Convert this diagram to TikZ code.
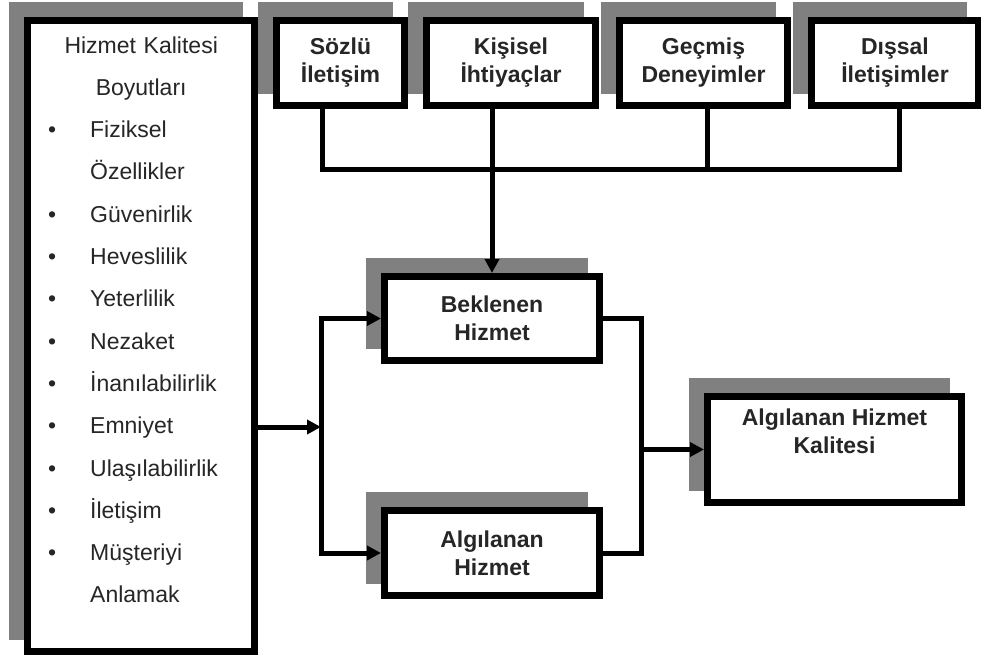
\documentclass[tikz,border=0pt]{standalone}
\usepackage{fontspec}
\setmainfont{Liberation Sans}
\usepackage{tikz}
\usetikzlibrary{arrows.meta,positioning,shadows}
\definecolor{Golge}{HTML}{808080}
\definecolor{Yazi}{HTML}{262626}
\newcommand{\madde}[1]{\makebox[14pt]{{\fontsize{23}{23}\selectfont\textbullet}}\hspace{31pt}#1}
\newcommand{\devam}[1]{\hspace*{45pt}#1}

\begin{document}
\begin{tikzpicture}[
  x=1pt, y=-1pt,
  every node/.style={text=Yazi},
  kutu/.style={draw=black,line width=7pt,fill=white,inner sep=2pt,align=center,
    general shadow={fill=Golge,draw=Golge,shadow xshift=-15pt,shadow yshift=15pt},
    font=\fontsize{23}{28}\selectfont\bfseries},
  bag/.style={line width=5pt,draw=black},
  ok/.style={bag,-{Triangle[length=14pt,width=14pt]}}
]
  \fill[white] (0,0) rectangle (981,659);
  \useasboundingbox (0,0) rectangle (981,659);

  \node[kutu,minimum width=227pt,minimum height=631pt] (boy) at (141,336) {};
  \node[anchor=base west,text width=200pt,inner sep=0pt,align=left,
    font=\fontsize{23}{42.3}\selectfont] (liste) at (45,53)
    {\makebox[192pt]{Hizmet Kalitesi}\\
     \makebox[192pt]{Boyutları}\\
     \madde{Fiziksel}\\
     \devam{Özellikler}\\
     \madde{Güvenirlik}\\
     \madde{Heveslilik}\\
     \madde{Yeterlilik}\\
     \madde{Nezaket}\\
     \madde{İnanılabilirlik}\\
     \madde{Emniyet}\\
     \madde{Ulaşılabilirlik}\\
     \madde{İletişim}\\
     \madde{Müşteriyi}\\
     \devam{Anlamak}};

  \node[kutu,minimum width=128pt,minimum height=85pt] (soz) at (340.5,63) {Sözlü\\İletişim};
  \node[kutu,minimum width=169pt,minimum height=85pt] (kis) at (511,63) {Kişisel\\İhtiyaçlar};
  \node[kutu,minimum width=168pt,minimum height=85pt] (gec) at (703.5,63) {Geçmiş\\Deneyimler};
  \node[kutu,minimum width=167pt,minimum height=85pt] (dis) at (895,63) {Dışsal\\İletişimler};

  \node[kutu,minimum width=215pt,minimum height=84pt] (bek) at (492,318.5) {Beklenen\\Hizmet};
  \node[kutu,minimum width=215pt,minimum height=85pt] (alg) at (492,553) {Algılanan\\Hizmet};
  \node[kutu,minimum width=254pt,minimum height=106pt] (sonuc) at (834.5,449.5)
    {Algılanan Hizmet\\Kalitesi\\\strut};

  \coordinate (bus) at (0,169);
  \coordinate (sozalt) at ([xshift=-18.5]soz.south);
  \coordinate (gecalt) at ([xshift=3.5]gec.south);
  \coordinate (disalt) at ([xshift=4]dis.south);
  \coordinate (kisalt) at (kis.south -| bek.north);
  \draw[bag] (sozalt) -- (sozalt |- bus) -- (disalt |- bus) -- (disalt);
  \draw[bag] (gecalt) -- (gecalt |- bus);
  \draw[ok] (kisalt) -- (bek.north);

  \coordinate (dagit) at (321,427);
  \draw[ok] (boy.east |- dagit) -- (dagit);
  \draw[bag,{Triangle[length=14pt,width=14pt]}-{Triangle[length=14pt,width=14pt]}]
    (bek.west) -| (dagit) |- (alg.west);

  \coordinate (topla) at (641,449.5);
  \draw[bag] (bek.east) -| (topla) |- (alg.east);
  \draw[ok] (topla) -- (sonuc.west);
\end{tikzpicture}
\end{document}
